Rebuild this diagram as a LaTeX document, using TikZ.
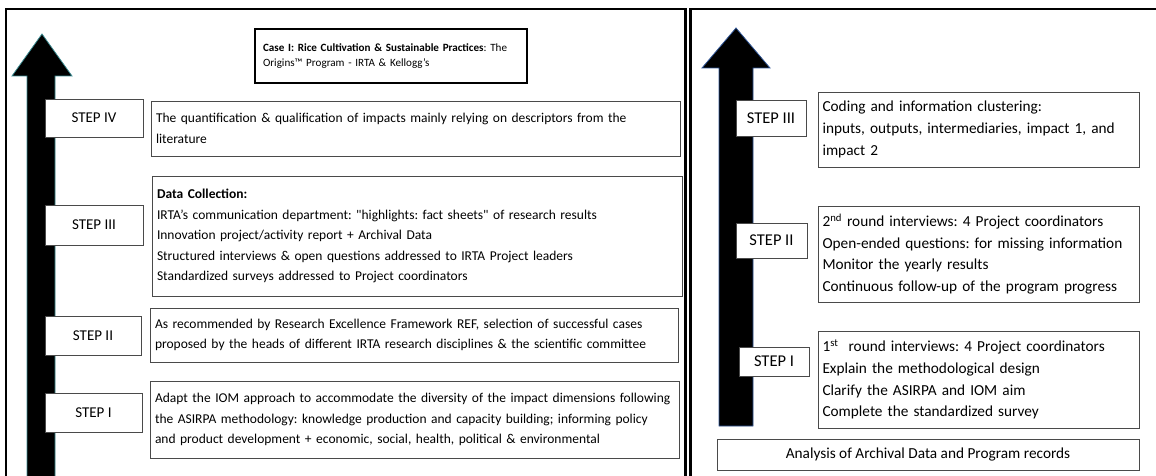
\documentclass[tikz,border=0pt]{standalone}
\usepackage{fontspec}
\setmainfont{Carlito}
\frenchspacing
\definecolor{arrL}{HTML}{3C8C92}
\definecolor{arrR}{HTML}{2F5597}
\definecolor{bord}{HTML}{4A4A4A}
\newcommand{\jl}[2]{\makebox[#1][s]{#2}}
\begin{document}
\begin{tikzpicture}[x=1pt,y=-1pt,
  frame/.style={draw=black,line width=2.2pt},
  lbl/.style={draw=bord,line width=0.9pt,fill=white,inner sep=0pt,align=center,font=\fontsize{15}{18}\selectfont},
  rlbl/.style={draw=bord,line width=0.9pt,fill=white,inner sep=0pt,align=center,font=\fontsize{16.5}{19}\selectfont},
  tbox/.style={draw=bord,line width=0.9pt,fill=white,inner xsep=5pt,inner ysep=0pt,align=left,font=\fontsize{13.5}{20.5}\selectfont},
  rbox/.style={draw=bord,line width=0.9pt,fill=white,inner xsep=4.5pt,inner ysep=0pt,align=left,font=\fontsize{15.3}{21.7}\selectfont},
  arrowL/.style={fill=black,draw=arrL,line width=0.8pt},
  arrowR/.style={fill=black,draw=arrR,line width=0.8pt}]
\useasboundingbox (0,0) rectangle (1156,476);
\clip (0,0) rectangle (1156,476);
% panel frames
\draw[frame] (6,9) rectangle (685.5,490);
\draw[frame] (690.5,9) rectangle (1170,490);
% arrows
\draw[arrowL] (42,34) -- (72,76) -- (55,76) -- (55,490) -- (27,490) -- (27,76) -- (12,76) -- cycle;
\draw[arrowR] (736,28) -- (770,68) -- (753,68) -- (753,426) -- (719,426) -- (719,68) -- (702,68) -- cycle;
% title
\node[draw=black,line width=2pt,fill=white,minimum width=272pt,minimum height=54pt,text width=256pt,inner xsep=8pt,align=left,font=\fontsize{11.1}{14.5}\selectfont] (title) at (391,56)
  {\textbf{Case I: Rice Cultivation \& Sustainable Practices}: The\\Origins™ Program - IRTA \& Kellogg’s};
% left step labels
\node[lbl,minimum width=98pt,minimum height=38pt] (s4) at (94,118) {STEP IV};
\node[lbl,minimum width=98pt,minimum height=40pt] (s3) at (94,225) {STEP III};
\node[lbl,minimum width=96pt,minimum height=39pt] (s2) at (93,335.5) {STEP II};
\node[lbl,minimum width=97pt,minimum height=39pt] (s1) at (93.5,412.5) {STEP I};
% left text boxes
\node[tbox,text width=519pt,minimum height=55pt] (t4) at (415.5,128.5)
  {The quantification \& qualification of impacts mainly relying on descriptors from the\\literature};
\node[tbox,text width=520pt,minimum height=120pt] (t3) at (417,236)
  {\textbf{Data Collection:}\\
   IRTA’s communication department: \textquotedbl highlights: fact sheets\textquotedbl{} of research results\\
   Innovation project/activity report + Archival Data\\
   Structured interviews \& open questions addressed to IRTA Project leaders\\
   Standardized surveys addressed to Project coordinators};
\node[tbox,text width=518pt,minimum height=54pt] (t2) at (414,335)
  {\jl{518pt}{As recommended by Research Excellence Framework REF, selection of successful cases}\\
   proposed by the heads of different IRTA research disciplines \& the scientific committee};
\node[tbox,text width=519pt,minimum height=77pt] (t1) at (414.5,419.5)
  {\jl{519pt}{Adapt the IOM approach to accommodate the diversity of the impact dimensions following}\\
   \jl{519pt}{the ASIRPA methodology: knowledge production and capacity building; informing policy}\\
   and product development + economic, social, health, political \& environmental};
% right step labels
\node[rlbl,minimum width=70pt,minimum height=36pt] (r3) at (771,118) {STEP III};
\node[rlbl,minimum width=71pt,minimum height=35pt] (r2) at (771.5,240.5) {STEP II};
\node[rlbl,minimum width=70pt,minimum height=29pt] (r1) at (774,361.5) {STEP I};
% right text boxes
\node[rbox,text width=312pt,minimum height=75pt] (q3) at (978.5,129.5)
  {Coding and information clustering:\\inputs, outputs, intermediaries, impact 1, and\\impact 2};
\node[rbox,text width=312pt,minimum height=96pt] (q2) at (978.5,254)
  {2\textsuperscript{nd} round interviews: 4 Project coordinators\\
   Open-ended questions: for missing information\\
   Monitor the yearly results\\
   Continuous follow-up of the program progress};
\node[rbox,text width=312pt,minimum height=97pt] (q1) at (978.5,379.5)
  {1\textsuperscript{st}\ \ round interviews: 4 Project coordinators\\
   Explain the methodological design\\
   Clarify the ASIRPA and IOM aim\\
   Complete the standardized survey};
\node[rbox,minimum width=422pt,minimum height=31pt,align=center] (an) at (928,454.5)
  {Analysis of Archival Data and Program records};
\end{tikzpicture}
\end{document}
